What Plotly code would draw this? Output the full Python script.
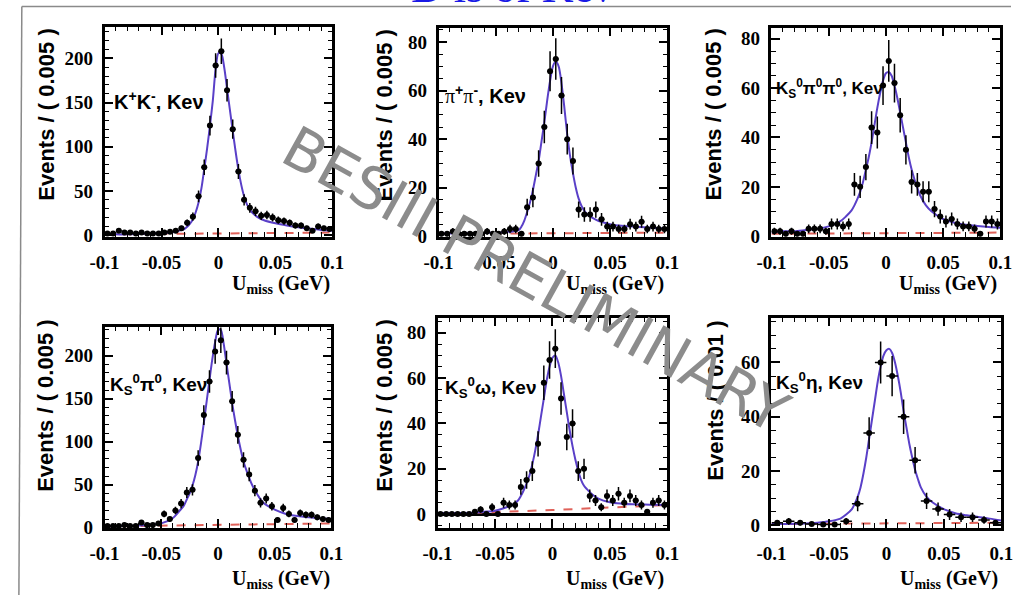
import numpy as np
import plotly.graph_objects as go

# ---------------- data ----------------
# histogram bin centres (bin width 0.005 GeV, and 0.01 GeV for K_S eta)
bins005 = np.round(np.arange(-0.0975, 0.1, 0.005), 4)
bins010 = np.round(np.arange(-0.095, 0.1, 0.01), 3)

CX = [-0.1, -0.09, -0.08, -0.07, -0.06, -0.05, -0.04, -0.035, -0.03, -0.0275,
      -0.025, -0.0225, -0.02, -0.0175, -0.015, -0.0125, -0.01, -0.0075, -0.005, -0.0025,
      0.0, 0.0025, 0.005, 0.0075, 0.01, 0.0125, 0.015, 0.0175, 0.02, 0.0225,
      0.025, 0.0275, 0.03, 0.035, 0.04, 0.05, 0.06, 0.07, 0.08, 0.09, 0.1]
BX = [-0.1, 0.0, 0.1]

kk_counts = [2, 2, 5, 3, 3, 2, 3, 2, 2, 2, 3, 4, 5, 8, 14, 21, 44, 77, 124, 192,
             208, 164, 120, 72, 40, 31, 27, 22, 23, 20, 17, 16, 14, 11, 11, 8, 5, 10, 8, 7]
kk_fit = [1, 1, 1, 1.5, 2, 2.5, 3.5, 5, 7, 9.5,
          13, 18, 26, 37, 53, 75, 98, 124, 152, 188,
          206, 205, 190, 166, 142, 118, 95, 74, 57, 44,
          35, 29, 25, 20, 17, 13.5, 11, 9, 7.5, 6, 5]
kk_bkg = [1, 2, 3]

pipi_counts = [1, 1, 2, 1, 1, 1, 1, 1, 2, 1, 1, 2, 3, 3, 1, 12, 16, 30, 45, 68,
               73, 58, 40, 31, 11, 9, 9, 11, 7, 4, 4, 3, 3, 5, 4, 6, 3, 4, 3, 3]
pipi_fit = [1.2, 1.2, 1.3, 1.3, 1.4, 1.5, 1.8, 2, 2.5, 4,
            6.5, 10, 14, 19, 25, 31, 39, 47, 56, 64,
            70, 72, 70, 63, 53, 42, 33, 26, 20, 15.5,
            12.5, 10.5, 9, 7.5, 6.3, 5, 4.3, 4, 3.7, 3.4, 3.2]
pipi_bkg = [1, 1.2, 1.5]

kspp_counts = [2, 2, 1, 2, 1, 1, 3, 3, 3, 2, 5, 5, 4, 5, 21, 20, 28, 44, 42, 61,
               71, 62, 49, 35, 22, 21, 18, 18, 11, 8, 6, 7, 5, 4, 4, 3, 1, 6, 6, 5]
kspp_fit = [1.5, 2, 2, 2.5, 3, 4, 6, 8, 10.5, 12.5,
            15, 18, 22, 27, 32, 38, 45, 52, 58, 63,
            66, 66.5, 65, 61, 56, 50, 44, 38, 32, 27,
            23, 19.5, 16.5, 12.5, 10, 7, 5.5, 4.7, 4.2, 3.8, 3.5]
kspp_bkg = [1, 1.2, 1.5]

kspi_counts = [2, 2, 2, 3, 2, 2, 6, 3, 3, 5, 16, 10, 20, 28, 41, 44, 81, 131, 170, 205,
               218, 192, 147, 108, 79, 62, 43, 29, 34, 25, 9, 23, 16, 9, 17, 15, 15, 12, 10, 9]
kspi_fit = [1.5, 1.8, 2, 2.5, 3.5, 5, 11, 18, 26, 33,
            40, 49, 61, 77, 98, 122, 147, 172, 196, 216,
            230, 230, 214, 191, 168, 145, 125, 107, 91, 77,
            67, 58, 50, 38, 29, 21, 16, 13.5, 12, 11, 10]
kspi_bkg = [1.5, 3, 5]

ksom_counts = [0, 0, 0, 0, 0, 0, 1, 2, 0, 3, 0, 5, 4, 4, 12, 15, 19, 31, 58, 68,
               73, 51, 34, 40, 19, 20, 8, 6, 3, 8, 6, 9, 5, 8, 6, 4, 1, 5, 6, 4]
ksom_fit = [0.5, 0.5, 0.5, 0.6, 1, 1.5, 3, 4, 6, 8,
            10.5, 13.5, 17, 22, 28, 35, 43, 51, 59, 65,
            69, 70, 67, 61, 53, 45, 37, 30, 24, 19,
            15, 12.5, 11, 8.5, 6.8, 5.2, 4.6, 4.3, 4.2, 4.1, 4]
ksom_bkg = [0, 1.8, 4]

kseta_counts = [1, 1.5, 1, 0.5, 0.3, 0.3, 1.5, 8, 34, 60,
                55, 40, 24, 9, 6, 4, 3, 3, 2, 1]
kseta_fit = [0.5, 0.5, 0.6, 0.7, 1, 1.5, 2.5, 4, 6, 8,
             10.5, 14, 19, 25, 32, 39, 46, 53, 58.5, 62.5,
             64.5, 65, 63.5, 60, 55, 49, 42, 36, 30, 25,
             20.5, 17, 14, 10.5, 8.5, 6, 4.5, 3.7, 3.1, 2.5, 1.8]
kseta_bkg = [0.5, 0.8, 1]

x_tickvals = [-0.1, -0.05, 0, 0.05, 0.1]
x_ticktext = ["-0.1", "-0.05", "0", "0.05", "0.1"]

SERIF = "Liberation Serif, DejaVu Serif, Times New Roman, serif"
SANS = "Liberation Sans, Arial, sans-serif"

PI = "<span style='font-family:Liberation Serif, DejaVu Serif, serif;font-weight:normal'>π</span>"
labels = [
    "K<sup>+</sup>K<sup>-</sup>, Keν",
    PI + "<sup>+</sup>" + PI + "<sup>-</sup>, Keν",
    "K<sub>S</sub><sup>0</sup>π<sup>0</sup>π<sup>0</sup>, Keν",
    "K<sub>S</sub><sup>0</sup>π<sup>0</sup>, Keν",
    "K<sub>S</sub><sup>0</sup>ω, Keν",
    "K<sub>S</sub><sup>0</sup>η, Keν",
]
label_sizes = [20, 20, 17, 19, 19, 19]

# ---------------- layout helpers ----------------
W, H = 1023, 605


def px(x):
    return x / W


def py(y):
    return 1 - y / H


panels = [
    dict(x=bins005, y=kk_counts, fit=kk_fit, bkg=kk_bkg, hb=0.0025,
         box=(92, 326, 27, 241), yr=(-2, 236), ydt=50, ymin=10,
         lab=(100, 102), yt="Events / ( 0.005 )", ytx=32, yty=27, xtx=326, xty=289),
    dict(x=bins005, y=pipi_counts, fit=pipi_fit, bkg=pipi_bkg, hb=0.0025,
         box=(435, 670, 28, 241), yr=(-0.3, 86), ydt=20, ymin=5,
         lab=(440, 96), yt="Events / ( 0.005 )", ytx=380, yty=28, xtx=669, xty=289),
    dict(x=bins005, y=kspp_counts, fit=kspp_fit, bkg=kspp_bkg, hb=0.0025,
         box=(777, 1012, 28, 241), yr=(-0.3, 84.5), ydt=20, ymin=5,
         lab=(780, 90), yt="Events / ( 0.005 )", ytx=718, yty=27, xtx=1011, xty=289),
    dict(x=bins005, y=kspi_counts, fit=kspi_fit, bkg=kspi_bkg, hb=0.0025,
         box=(92, 325, 332, 537), yr=(-0.5, 234), ydt=50, ymin=10,
         lab=(96, 391), yt="Events / ( 0.005 )", ytx=32, yty=323, xtx=326, xty=589),
    dict(x=bins005, y=ksom_counts, fit=ksom_fit, bkg=ksom_bkg, hb=0.0025,
         box=(434, 670, 323, 537), yr=(-6.2, 86.7), ydt=20, ymin=5,
         lab=(440, 394), yt="Events / ( 0.005 )", ytx=380, yty=323, xtx=669, xty=589),
    dict(x=bins010, y=kseta_counts, fit=kseta_fit, bkg=kseta_bkg, hb=0.005,
         box=(777, 1013, 323, 537), yr=(-1, 76.5), ydt=20, ymin=5,
         lab=(780, 389), yt="Events / ( 0.01 )", ytx=720, yty=324, xtx=1012, xty=589),
]

CURVE = "#5a40c8"
BKG = "#e0625a"
TICKFONT = dict(family=SERIF, size=19, color="black", weight="bold")

fig = go.Figure()
annotations = []
layout = {}

for k, p in enumerate(panels, start=1):
    xa = "x" if k == 1 else f"x{k}"
    ya = "y" if k == 1 else f"y{k}"
    x0, x1, y0, y1 = p["box"]

    fig.add_trace(go.Scatter(x=BX, y=p["bkg"], mode="lines", xaxis=xa, yaxis=ya,
                             line=dict(color=BKG, width=2, dash="dash"),
                             showlegend=False, hoverinfo="skip"))
    fig.add_trace(go.Scatter(x=CX, y=p["fit"], mode="lines", xaxis=xa, yaxis=ya,
                             line=dict(color=CURVE, width=2, shape="spline", smoothing=0.8),
                             showlegend=False, hoverinfo="skip"))
    cnt = np.array(p["y"], dtype=float)
    fig.add_trace(go.Scatter(x=p["x"], y=cnt, mode="markers", xaxis=xa, yaxis=ya,
                             marker=dict(color="black", size=6),
                             error_y=dict(type="data", array=np.sqrt(cnt), color="black",
                                          thickness=1.5, width=0),
                             error_x=dict(type="constant", value=p["hb"], color="black",
                                          thickness=1.5, width=0),
                             showlegend=False))

    axname_x = "xaxis" if k == 1 else f"xaxis{k}"
    axname_y = "yaxis" if k == 1 else f"yaxis{k}"
    layout[axname_x] = dict(
        domain=[px(x0), px(x1)], range=[-0.1, 0.1], anchor=ya,
        tickmode="array", tickvals=x_tickvals, ticktext=x_ticktext,
        ticks="inside", ticklen=9, tickwidth=1.5, tickcolor="black",
        minor=dict(ticks="inside", ticklen=5, tickwidth=1.2, tickcolor="black",
                   dtick=0.01, tick0=0),
        showline=True, linewidth=2.5, linecolor="black", mirror="allticks",
        showgrid=False, zeroline=False, tickfont=TICKFONT, ticklabelstandoff=6,
    )
    layout[axname_y] = dict(
        domain=[py(y1), py(y0)], range=list(p["yr"]), anchor=xa,
        tick0=0, dtick=p["ydt"],
        ticks="inside", ticklen=9, tickwidth=1.5, tickcolor="black",
        minor=dict(ticks="inside", ticklen=5, tickwidth=1.2, tickcolor="black",
                   dtick=p["ymin"], tick0=0),
        showline=True, linewidth=2.5, linecolor="black", mirror="allticks",
        showgrid=False, zeroline=(k == 5), zerolinecolor="black", zerolinewidth=2.5,
        tickfont=TICKFONT, ticklabelstandoff=5,
    )

    # panel label
    annotations.append(dict(x=px(p["lab"][0]), y=py(p["lab"][1]), xref="paper", yref="paper",
                            text=f"<b>{labels[k-1]}</b>", showarrow=False,
                            xanchor="left", yanchor="middle",
                            font=dict(family=SANS, size=label_sizes[k-1], color="black")))
    # y title
    annotations.append(dict(x=px(p["ytx"]), y=py(p["yty"]), xref="paper", yref="paper",
                            text=f"<b>{p['yt']}</b>", showarrow=False, textangle=-90,
                            xanchor="center", yanchor="top",
                            font=dict(family=SANS, size=22, color="black")))
    # x title
    annotations.append(dict(x=px(p["xtx"]), y=py(p["xty"]), xref="paper", yref="paper",
                            text="<b>U<sub>miss</sub> (GeV)</b>", showarrow=False,
                            xanchor="right", yanchor="middle",
                            font=dict(family=SERIF, size=20, color="black")))

# cut-off slide title
annotations.append(dict(x=px(510), y=py(14), xref="paper", yref="paper",
                        text="D is of Keν", showarrow=False, xanchor="center", yanchor="bottom",
                        font=dict(family=SERIF, size=44, color="#1a1ae6")))
# watermark
annotations.append(dict(x=px(535), y=py(285), xref="paper", yref="paper",
                        text="BESIII PRELIMINARY", showarrow=False, textangle=29,
                        xanchor="center", yanchor="middle",
                        font=dict(family="DejaVu Sans", size=58, color="#8c8c8c")))

shapes = [
    dict(type="line", xref="paper", yref="paper", x0=px(7), x1=1, y0=py(6.5), y1=py(6.5),
         line=dict(color="#8a8a8a", width=1.5)),
    dict(type="line", xref="paper", yref="paper", x0=px(7), x1=px(4), y0=py(6.5), y1=0,
         line=dict(color="#8a8a8a", width=1.5)),
]

fig.update_layout(
    width=W, height=H, margin=dict(l=0, r=0, t=0, b=0),
    paper_bgcolor="white", plot_bgcolor="white",
    annotations=annotations, shapes=shapes, showlegend=False,
    **layout,
)

fig.write_html("out.html")
